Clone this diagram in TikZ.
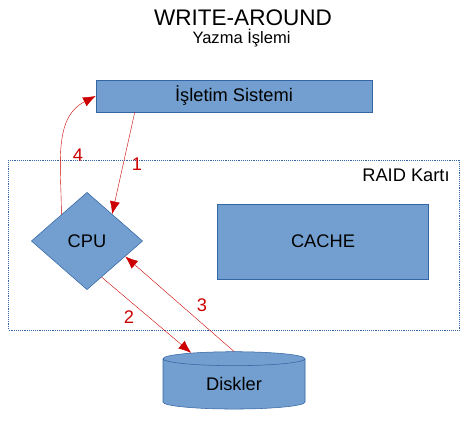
\documentclass[tikz,border=0pt]{standalone}
\usepackage{fontspec}
\setmainfont{Liberation Sans}
\usetikzlibrary{shapes.geometric,arrows.meta}
\definecolor{boxblue}{HTML}{729FCF}
\definecolor{edgeblue}{HTML}{3465A4}
\definecolor{linered}{HTML}{CC0000}
\tikzset{
  part/.style={draw=edgeblue, fill=boxblue, inner sep=0pt, font=\fontsize{13.7}{16}\selectfont},
  flow/.style={-{Latex[length=9.5pt,width=7.5pt]}, linered, line width=0.3pt},
  num/.style={text=linered, inner sep=0pt, font=\fontsize{13.7}{16}\selectfont}
}
\begin{document}
\begin{tikzpicture}[x=0.75pt, y=-0.75pt]
\useasboundingbox (0,0) rectangle (472,425);

% Titles
\node[inner sep=0pt, font=\fontsize{16.9}{20}\selectfont] (title) at (243,18) {WRITE-AROUND};
\node[inner sep=0pt, font=\fontsize{12.4}{15}\selectfont] (subtitle) at (241.5,38) {Yazma İşlemi};

% RAID card
\node[draw=edgeblue, densely dotted, minimum width=338pt, minimum height=127.5pt, inner sep=0pt] (raid) at (234,245) {};
\node[inner sep=0pt, font=\fontsize{13.7}{16}\selectfont] (raidlabel) at (406,175) {RAID Kartı};

% Blocks
\node[part, minimum width=207pt, minimum height=24pt] (os) at (234,96) {İşletim Sistemi};
\node[part, minimum width=158.5pt, minimum height=56.5pt] (cache) at (323,241.5) {CACHE};
\node[part, diamond, aspect=1.15, minimum width=83.5pt, minimum height=73pt] (cpu) at (87,241) {CPU};
\node[part, cylinder, shape border rotate=90, aspect=0.25, minimum width=106.5pt, minimum height=43pt] (disk) at (234,384) {Diskler};

% Arrows
\draw[flow] ([xshift=29.25pt]os.south west) -- (cpu.47);
\draw[flow] (cpu.134) to[out=90, in=207] (os.west);
\draw[flow] (cpu.-68) -- (disk.144);
\draw[flow] (disk.90) -- (cpu.-22);

% Numbers
\node[num] (one) at (137,164) {1};
\node[num] (two) at (129,317) {2};
\node[num] (three) at (202,305) {3};
\node[num] (four) at (78,155) {4};
\end{tikzpicture}
\end{document}
